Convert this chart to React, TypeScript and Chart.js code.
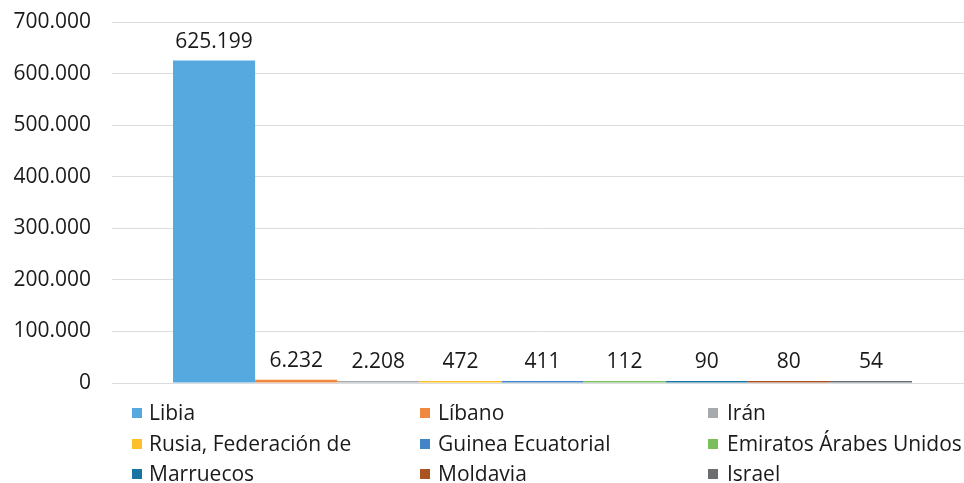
import React, { useEffect, useRef } from "react";
import { Chart, registerables } from "chart.js";

Chart.register(...registerables);

const categories = [""];
const countries = [
  "Libia",
  "Líbano",
  "Irán",
  "Rusia, Federación de",
  "Guinea Ecuatorial",
  "Emiratos Árabes Unidos",
  "Marruecos",
  "Moldavia",
  "Israel",
];
const values = [625199, 6232, 2208, 472, 411, 112, 90, 80, 54];
const colors = [
  "#55a9de",
  "#f0883f",
  "#a6aaad",
  "#fdc02a",
  "#4285c6",
  "#7cbe5c",
  "#1874a2",
  "#ab5320",
  "#6a6e71",
];
const yMax = 700000;
const yStep = 100000;

const FONT = "'Open Sans', sans-serif";
const TEXT = "#1a1a1a";

function fmt(v: number): string {
  const s = Math.round(v).toString();
  return s.replace(/\B(?=(\d{3})+(?!\d))/g, ".");
}

const labelsPlugin = {
  id: "valueLabels",
  afterDatasetsDraw(chart: any) {
    const ctx = chart.ctx;
    ctx.save();
    ctx.font = `21px ${FONT}`;
    ctx.fillStyle = TEXT;
    ctx.textAlign = "center";
    ctx.textBaseline = "alphabetic";
    chart.data.datasets.forEach((ds: any, i: number) => {
      const meta = chart.getDatasetMeta(i);
      meta.data.forEach((bar: any, j: number) => {
        ctx.fillText(fmt(ds.data[j]), bar.x, bar.y - 13);
      });
    });
    ctx.restore();
  },
};

const legendPlugin = {
  id: "gridLegend",
  afterDraw(chart: any) {
    const ctx = chart.ctx;
    const sqX = [132, 420, 708];
    const txX = [149, 438, 727];
    const base = [420, 451, 481];
    ctx.save();
    ctx.font = `21px ${FONT}`;
    ctx.textAlign = "left";
    ctx.textBaseline = "alphabetic";
    chart.data.datasets.forEach((ds: any, i: number) => {
      const col = i % 3;
      const row = Math.floor(i / 3);
      ctx.fillStyle = ds.backgroundColor;
      ctx.fillRect(sqX[col], base[row] - 12, 10, 10);
      ctx.fillStyle = TEXT;
      ctx.fillText(ds.label, txX[col], base[row]);
    });
    ctx.restore();
  },
};

export default function App() {
  const ref = useRef<HTMLCanvasElement>(null);
  useEffect(() => {
    if (!ref.current) return;
    const chart = new Chart(ref.current, {
      type: "bar",
      data: {
        labels: categories,
        datasets: countries.map((c, i) => ({
          label: c,
          data: [values[i]],
          backgroundColor: colors[i],
          borderWidth: 0,
          minBarLength: 2,
          categoryPercentage: 0.8583,
          barPercentage: 1,
        })),
      },
      options: {
        animation: false,
        responsive: false,
        maintainAspectRatio: false,
        layout: { padding: { top: 22, right: 0, bottom: 100, left: 0 } },
        plugins: {
          legend: { display: false },
          tooltip: { enabled: false },
          title: { display: false },
        },
        scales: {
          x: {
            display: false,
            grid: { display: false },
          },
          y: {
            min: 0,
            max: yMax,
            afterFit(scale: any) {
              scale.width = 112;
              scale.paddingTop = 0;
              scale.paddingBottom = 0;
            },
            border: { display: false },
            grid: { color: "#d9dde0", lineWidth: 1, drawTicks: false },
            ticks: {
              stepSize: yStep,
              padding: 21,
              color: TEXT,
              font: { family: FONT, size: 21 },
              callback: (v: any) => fmt(Number(v)),
            },
          },
        },
      },
      plugins: [labelsPlugin, legendPlugin],
    });
    return () => chart.destroy();
  }, []);
  return (
    <div style={{ position: "fixed", left: 0, top: 0, width: 964, height: 483, overflow: "hidden", background: "#fff" }}>
      <canvas ref={ref} width={973} height={483} style={{ display: "block", width: 973, height: 483 }} />
    </div>
  );
}
